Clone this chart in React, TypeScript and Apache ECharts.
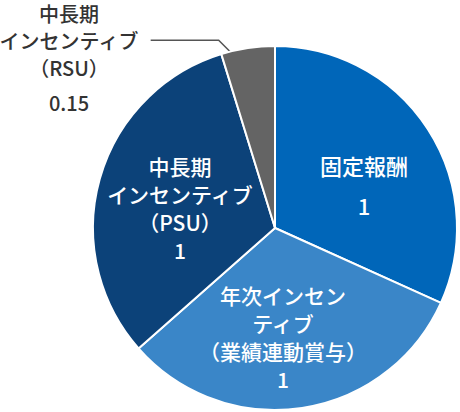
import React, { useEffect, useRef } from "react";
import * as echarts from "echarts";

const categories = [
  "固定報酬",
  "年次インセンティブ（業績連動賞与）",
  "中長期インセンティブ（PSU）",
  "中長期インセンティブ（RSU）",
];
const values = [1, 1, 1, 0.15];
const labelTexts = [
  "固定報酬",
  "年次インセン\nティブ\n（業績連動賞与）",
  "中長期\nインセンティブ\n（PSU）",
  "中長期\nインセンティブ\n（RSU）",
];
const colors = ["#0066b9", "#3a86c8", "#0c4279", "#646464"];

const CX = 275;
const CY = 228;
const R = 182;
const FONT = "'Noto Sans CJK JP', 'Noto Sans', sans-serif";

// label anchor positions (layout only)
const labelPos: number[][] = [
  [364, 185],
  [283, 337],
  [180, 208],
  [69, 0],
];

export default function App() {
  const ref = useRef<HTMLDivElement>(null);
  useEffect(() => {
    if (!ref.current) return;
    const chart = echarts.init(ref.current, undefined, { renderer: "svg" });

    const insideLineHeights = [40, 28, 28];
    const insideFont = [22, 21, 21];

    const buildData = (guide: boolean) =>
      categories.map((name, i) => {
        const item: any = {
          name,
          value: values[i],
          itemStyle: guide
            ? { color: "rgba(0,0,0,0)", borderWidth: 0 }
            : { color: colors[i], borderColor: "#ffffff", borderWidth: 2 },
        };
        if (i < 3) {
          item.label = guide
            ? { show: false }
            : {
                show: true,
                position: "inside",
                formatter: `${labelTexts[i]}\n${values[i]}`,
                color: "#ffffff",
                fontSize: insideFont[i],
                fontWeight: 500,
                fontFamily: FONT,
                lineHeight: insideLineHeights[i],
                align: "center",
              };
          item.labelLine = { show: false };
        } else {
          item.label = {
            show: true,
            position: "outside",
            formatter: guide
              ? " "
              : labelTexts[i]
                  .split("\n")
                  .map((t) => `{a|${t}}`)
                  .join("\n") + `\n{b|${values[i]}}`,
            color: "#333333",
            fontFamily: FONT,
            fontSize: 20,
            align: "center",
            rich: {
              a: { fontSize: 20, fontWeight: 500, lineHeight: 27, fontFamily: FONT, color: "#333333" },
              b: { fontSize: 20, fontWeight: 500, lineHeight: 42, fontFamily: FONT, color: "#333333" },
            },
          };
          item.labelLine = {
            show: true,
            lineStyle: guide
              ? { color: "#555555", width: 1.5 }
              : { color: "#ffffff", width: 5 },
          };
        }
        return item;
      });

    const layoutFn = (params: any) => {
      const i = params.dataIndex;
      if (i < 3) {
        return {
          x: labelPos[i][0],
          y: labelPos[i][1],
          align: "center",
          verticalAlign: "middle",
        };
      }
      const total = values.reduce((a, b) => a + b, 0);
      let before = 0;
      for (let k = 0; k < 3; k++) before += values[k];
      const mid = ((before + values[3] / 2) / total) * Math.PI * 2;
      const sx = CX + Math.sin(mid) * R * 0.86;
      const sy = CY - Math.cos(mid) * R * 0.86;
      const bx = sx - 33;
      const by = sy - 33;
      const ex = bx - 68;
      return {
        x: labelPos[3][0],
        y: labelPos[3][1],
        align: "center",
        verticalAlign: "top",
        labelLinePoints: [
          [sx, sy],
          [bx, by],
          [ex, by],
        ],
      };
    };

    const base = {
      type: "pie",
      center: [CX, CY],
      radius: [0, R],
      startAngle: 90,
      clockwise: true,
      avoidLabelOverlap: false,
      emphasis: { disabled: true },
      labelLayout: layoutFn,
    };

    chart.setOption({
      animation: false,
      series: [
        { ...base, data: buildData(false) },
        { ...base, silent: true, data: buildData(true) },
      ],
    });
    return () => chart.dispose();
  }, []);

  return (
    <div
      ref={ref}
      style={{ position: "absolute", left: 0, top: 0, width: 460, height: 412 }}
    />
  );
}
